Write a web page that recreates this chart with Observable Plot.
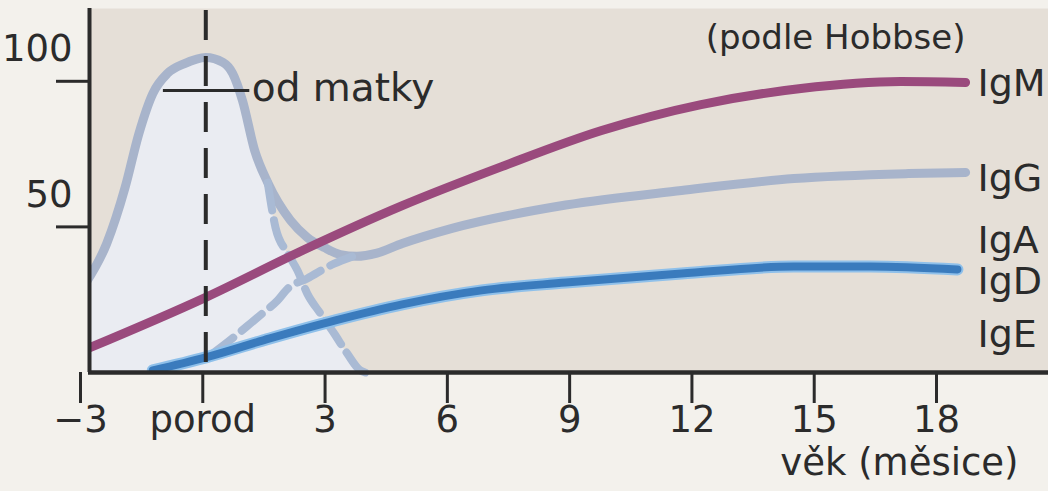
<!DOCTYPE html>
<html>
<head>
<meta charset="utf-8">
<script src="https://cdn.jsdelivr.net/npm/d3@7"></script>
<script src="https://cdn.jsdelivr.net/npm/@observablehq/plot@0.6"></script>
<style>
  html, body { margin: 0; padding: 0; background: #f3f1ec; }
  #chart svg { display: block; }
</style>
</head>
<body>
<div id="chart"></div>
<script>
// ---- data (months relative to birth, relative level in %) ----
const iggMonths = [-2.95, -2.43, -1.98, -1.64, -1.30, -0.94, -0.52, 0, 0.42, 0.66, 0.90, 1.20, 1.52, 2.08, 2.49, 2.91, 3.30, 3.70, 4.20, 4.82, 6.04, 8.83, 11.67, 14.43, 17.24, 18.64];
const iggValues = [30.6, 44.3, 63.5, 82.1, 95.8, 102.7, 106.1, 108.2, 106.5, 102.7, 93.4, 76.2, 65.2, 52.2, 46.4, 42.9, 40.5, 39.9, 41.0, 44.3, 49.5, 57.5, 62.5, 66.6, 68.3, 68.7];

const igmMonths = [-3.0, 0, 2.37, 4.82, 7.26, 9.71, 12.15, 14.6, 17.05, 18.64];
const igmValues = [7.6, 25.8, 41.9, 57.3, 70.7, 83.1, 92.0, 97.5, 99.9, 99.6];

const igdMonths = [-1.30, 0, 1.57, 3.18, 4.82, 6.77, 8.83, 11.67, 14.43, 16.31, 18.44];
const igdValues = [0.7, 5.2, 11.7, 17.9, 23.4, 28.2, 30.9, 34.0, 36.4, 36.4, 35.4];

// infant's own IgG synthesis (dashed, rising)
const ownIggMonths = [0.17, 0.59, 1.03, 1.39, 1.76, 2.01, 2.49, 3.15, 3.59];
const ownIggValues = [6.5, 11.0, 16.1, 20.3, 24.7, 28.8, 32.3, 37.4, 39.8];

// maternal IgG decay (dashed, falling)
const matIggMonths = [1.52, 1.71, 2.01, 2.25, 2.49, 2.81, 3.15, 3.47, 3.79, 3.91];
const matIggValues = [65.2, 49.8, 40.9, 35.0, 27.1, 20.3, 13.4, 6.5, 0.7, 0];

const xTicks = [-3, 0, 3, 6, 9, 12, 15, 18];
const xTickLabels = ["−3", "porod", "3", "6", "9", "12", "15", "18"];
const yTicks = [50, 100];

const seriesLabels = ["IgM", "IgG", "IgA", "IgD", "IgE"];
const seriesLabelLevels = [99.9, 67.1, 45.8, 31.9, 13.6];

const noteMonths = [-1.04, 1.08];
const noteLevel = 96.8;
const noteText = "od matky";

// shaded area under the maternal curve (bell then maternal decay)
const fillMonths = iggMonths.filter(m => m < matIggMonths[0]).concat(matIggMonths);
const fillValues = iggValues.slice(0, fillMonths.length - matIggMonths.length).concat(matIggValues);

const tickLabelMap = new Map(xTicks.map((t, i) => [t, xTickLabels[i]]));
const ink = "#2b2b2b";
const curve = "monotone-x";

const chart = Plot.plot({
  width: 1048,
  height: 491,
  marginLeft: 88,
  marginRight: 0,
  marginTop: 8,
  marginBottom: 119,
  style: { background: "transparent", fontFamily: "'DejaVu Sans', sans-serif", color: ink, overflow: "visible" },
  x: { domain: [-3, 18], range: [83, 939], label: null },
  y: { domain: [0, 125], range: [372, 8], label: null },
  marks: [
    Plot.frame({ fill: "#e5dfd7", stroke: null }),
    Plot.areaY(fillValues, { x: fillMonths, y: fillValues, fill: "#eaecf2", curve, clip: true }),
    Plot.line(iggValues, { x: iggMonths, y: iggValues, stroke: "#a8b4cb", strokeWidth: 9, curve, clip: true }),
    Plot.line(ownIggValues, { x: ownIggMonths, y: ownIggValues, stroke: "#a9bad4", strokeWidth: 8, strokeDasharray: "26,11", curve }),
    Plot.line(matIggValues, { x: matIggMonths, y: matIggValues, stroke: "#a9bad4", strokeWidth: 8, strokeDasharray: "28,10", curve }),
    Plot.line(igmValues, { x: igmMonths, y: igmValues, stroke: "#9a4a7d", strokeWidth: 9, curve, clip: true }),
    Plot.line(igdValues, { x: igdMonths, y: igdValues, stroke: "#8fc0ea", strokeWidth: 12, curve, clip: true }),
    Plot.line(igdValues, { x: igdMonths, y: igdValues, stroke: "#3a7bbd", strokeWidth: 8, curve, clip: true }),
    Plot.ruleX([0], { stroke: ink, strokeWidth: 4, strokeDasharray: "30,16", strokeDashoffset: -2 }),
    Plot.ruleY([noteLevel], { x1: noteMonths[0], x2: noteMonths[1], stroke: ink, strokeWidth: 3 }),
    Plot.ruleY([0], { stroke: ink, strokeWidth: 4.5 }),
    Plot.ruleX([-3], { stroke: ink, strokeWidth: 4, dx: 6 }),
    Plot.axisX(xTicks, {
      tickSize: 31, tickPadding: 2, strokeWidth: 3, stroke: ink,
      tickFormat: d => tickLabelMap.get(d), fontSize: 37, dx: -3, label: null
    }),
    Plot.axisY(yTicks, { tickSize: 32, strokeWidth: 3, stroke: ink, tickFormat: () => "", label: null }),
    Plot.axisY(yTicks, { tickSize: 0, tickPadding: 16, fontSize: 37, dy: -32, label: null }),
    Plot.text([noteText], { x: noteMonths[1], y: noteLevel, textAnchor: "start", dx: 2, dy: -2, fontSize: 39, fill: ink }),
    Plot.text(seriesLabels, { y: seriesLabelLevels, frameAnchor: "right", textAnchor: "start", dx: -71, dy: 2, fontSize: 38, fill: ink }),
    Plot.text(["(podle Hobbse)"], { frameAnchor: "top-right", textAnchor: "end", lineAnchor: "middle", dx: -83, dy: 30, fontSize: 34, fill: ink }),
    Plot.text(["věk (měsice)"], { frameAnchor: "bottom-right", textAnchor: "end", lineAnchor: "middle", dx: -30, dy: 91, fontSize: 37, fill: ink })
  ]
});
document.getElementById("chart").appendChild(chart);
</script>
</body>
</html>
